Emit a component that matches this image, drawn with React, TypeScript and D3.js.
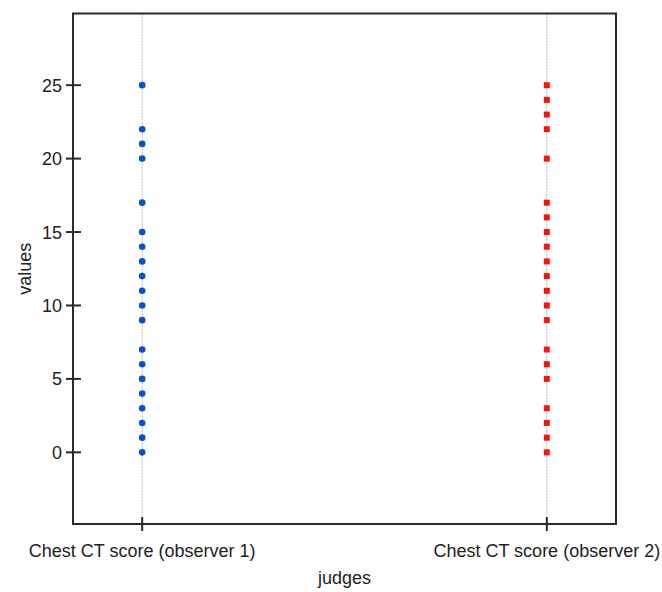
import React from "react";
import * as d3 from "d3";

const categories = ["Chest CT score (observer 1)", "Chest CT score (observer 2)"];
const observer1 = [0, 1, 2, 3, 4, 5, 6, 7, 9, 10, 11, 12, 13, 14, 15, 17, 20, 21, 22, 25];
const observer2 = [0, 1, 2, 3, 5, 6, 7, 9, 10, 11, 12, 13, 14, 15, 16, 17, 20, 22, 23, 24, 25];
const yTicks = [0, 5, 10, 15, 20, 25];
const xTitle = "judges";
const yTitle = "values";

const W = 662;
const H = 592;
const L = 73, R = 616, T = 13.5, B = 524;

export default function App() {
  const x = d3.scalePoint<string>().domain(categories).range([L, R]).padding(0.171);
  const y = d3.scaleLinear().domain([-4.88, 29.88]).range([B, T]);
  const font = "'Liberation Sans', Arial, sans-serif";
  const axisColor = "#2a2a2a";
  return (
    <svg width={W} height={H} style={{ position: "absolute", left: 0, top: 0, background: "#fff" }}>
      {categories.map((c) => (
        <line key={c} x1={x(c)} x2={x(c)} y1={T} y2={B} stroke="#bdbdbd" strokeWidth={1} strokeDasharray="2,1" />
      ))}
      <rect x={L} y={T} width={R - L} height={B - T} fill="none" stroke={axisColor} strokeWidth={2} />
      {yTicks.map((t) => (
        <g key={t}>
          <line x1={L - 7} x2={L + 8} y1={y(t)} y2={y(t)} stroke={axisColor} strokeWidth={2} />
          <text x={62} y={y(t)} dy="0.36em" textAnchor="end" fontFamily={font} fontSize={18} fill="#222">{t}</text>
        </g>
      ))}
      {categories.map((c) => (
        <g key={"t" + c}>
          <line x1={x(c)} x2={x(c)} y1={B - 7} y2={B + 7} stroke={axisColor} strokeWidth={2} />
          <text x={x(c)} y={557} textAnchor="middle" fontFamily={font} fontSize={18} fill="#222">{c}</text>
        </g>
      ))}
      <text x={(L + R) / 2} y={584} textAnchor="middle" fontFamily={font} fontSize={18} fill="#222">{xTitle}</text>
      <text transform={`translate(31,${(T + B) / 2}) rotate(-90)`} textAnchor="middle" fontFamily={font} fontSize={18} fill="#222">{yTitle}</text>
      {observer1.map((v, i) => (
        <circle key={"a" + i} cx={x(categories[0])} cy={y(v)} r={3.3} fill="#0a4fcf" />
      ))}
      {observer2.map((v, i) => (
        <rect key={"b" + i} x={(x(categories[1]) as number) - 3} y={y(v) - 3} width={6} height={6} fill="#ff1010" />
      ))}
    </svg>
  );
}
